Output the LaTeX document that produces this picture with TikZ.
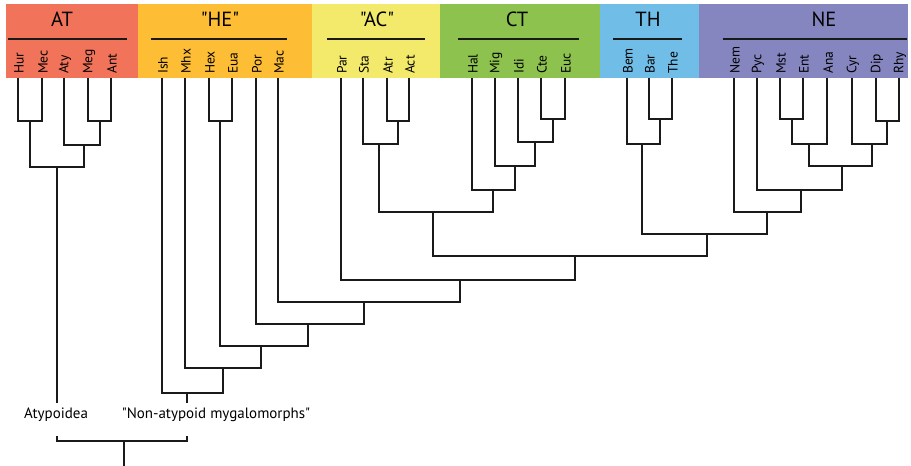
\documentclass[tikz,border=0pt]{standalone}
\usepackage{fontspec}
\setmainfont{PT Sans}[Ligatures=TeXOff]
\definecolor{cAT}{HTML}{F0735A}
\definecolor{cHE}{HTML}{FDBD35}
\definecolor{cAC}{HTML}{F3E96B}
\definecolor{cCT}{HTML}{8CC24D}
\definecolor{cTH}{HTML}{70BDE8}
\definecolor{cNE}{HTML}{8585C0}
\definecolor{ink}{HTML}{1A1A1A}
\begin{document}
\begin{tikzpicture}[x=1pt,y=-1pt,
  br/.style={line width=1.7pt, draw=ink, line join=miter},
  tline/.style={line width=1.4pt, draw=ink},
  ttl/.style={font=\fontsize{20.5}{24}\selectfont, inner sep=0pt, anchor=center},
  leaflab/.style={rotate=90, anchor=west, font=\fontsize{13.5}{16}\selectfont, inner sep=0pt},
  clade/.style={font=\fontsize{15}{18}\selectfont, inner sep=0pt}]
\useasboundingbox (0,0) rectangle (911,466);
\fill[white] (0,0) rectangle (911,466);
% colour bands
\fill[cAT] (6,4) rectangle (138,78);
\fill[cHE] (138,4) rectangle (312,78);
\fill[cAC] (312,4) rectangle (440,78);
\fill[cCT] (440,4) rectangle (600,78);
\fill[cTH] (600,4) rectangle (699,78);
\fill[cNE] (699,4) rectangle (908,78);
% group titles
\node[ttl] (tAT) at (62,19) {AT};
\node[ttl] (tHE) at (220,19) {"HE"};
\node[ttl] (tAC) at (377,19) {"AC"};
\node[ttl] (tCT) at (517,19) {CT};
\node[ttl] (tTH) at (648,19) {TH};
\node[ttl] (tNE) at (824,19) {NE};
\draw[tline] (8,39) -- (127,39);
\draw[tline] (151,39) -- (287,39);
\draw[tline] (327,39) -- (425,39);
\draw[tline] (458,39) -- (579,39);
\draw[tline] (613,39) -- (682,39);
\draw[tline] (723,39) -- (907,39);
% leaves
\foreach \n/\x in {Hur/18,Mec/42,Aty/64,Meg/88,Ant/111,
  Ish/162,Mhx/185,Hex/209,Eua/232,Por/256,Mac/278,
  Par/341,Sta/363,Atr/387,Act/409,
  Hal/472,Mig/495,Idi/518,Cte/541,Euc/565,
  Bem/627,Bar/649,The/672,
  Nem/734,Pyc/757,Mst/780,Ent/803,Ana/827,Cyr/852,Dip/876,Rhy/899}{
  \coordinate (\n) at (\x,78);
  \node[leaflab] (l\n) at (\x+1,74) {\n};
}
% internal nodes
\coordinate (a1) at (30,121);
\coordinate (a2) at (100,121);
\coordinate (a3) at (84,145);
\coordinate (a4) at (57,167);
\coordinate (h1) at (220,121);
\coordinate (c1) at (398,121);
\coordinate (c2) at (379,144);
\coordinate (t1) at (553,119);
\coordinate (t2) at (535,142);
\coordinate (t3) at (515,166);
\coordinate (t4) at (493,190);
\coordinate (ac) at (433,212);
\coordinate (th1) at (660,119);
\coordinate (th2) at (642,144);
\coordinate (n1) at (792,119);
\coordinate (n2) at (809,144);
\coordinate (n3) at (887,121);
\coordinate (n4) at (872,144);
\coordinate (n5) at (842,166);
\coordinate (n6) at (801,190);
\coordinate (n7) at (767,212);
\coordinate (tn) at (707,234);
\coordinate (x1) at (575,256);
\coordinate (x2) at (460,280);
\coordinate (x3) at (364,302);
\coordinate (x4) at (308,324);
\coordinate (x5) at (261,346);
\coordinate (x6) at (223,368);
\coordinate (x7) at (187,393);
% brackets
\draw[br] (Hur) |- (a1) -| (Mec);
\draw[br] (Meg) |- (a2) -| (Ant);
\draw[br] (Aty) |- (a3) -| (a2);
\draw[br] (a1) |- (a4) -| (a3);
\draw[br] (Hex) |- (h1) -| (Eua);
\draw[br] (Atr) |- (c1) -| (Act);
\draw[br] (Sta) |- (c2) -| (c1);
\draw[br] (Cte) |- (t1) -| (Euc);
\draw[br] (Idi) |- (t2) -| (t1);
\draw[br] (Mig) |- (t3) -| (t2);
\draw[br] (Hal) |- (t4) -| (t3);
\draw[br] (c2) |- (ac) -| (t4);
\draw[br] (Bar) |- (th1) -| (The);
\draw[br] (Bem) |- (th2) -| (th1);
\draw[br] (Mst) |- (n1) -| (Ent);
\draw[br] (n1) |- (n2) -| (Ana);
\draw[br] (Dip) |- (n3) -| (Rhy);
\draw[br] (Cyr) |- (n4) -| (n3);
\draw[br] (n2) |- (n5) -| (n4);
\draw[br] (Pyc) |- (n6) -| (n5);
\draw[br] (Nem) |- (n7) -| (n6);
\draw[br] (th2) |- (tn) -| (n7);
\draw[br] (ac) |- (x1) -| (tn);
\draw[br] (Par) |- (x2) -| (x1);
\draw[br] (Mac) |- (x3) -| (x2);
\draw[br] (Por) |- (x4) -| (x3);
\draw[br] (h1) |- (x5) -| (x4);
\draw[br] (Mhx) |- (x6) -| (x5);
\draw[br] (Ish) |- (x7) -| (x6);
% clade labels and root
\coordinate (atyT) at (57,403);
\coordinate (nonT) at (187,403);
\node[clade] (atyp) at (56,415) {Atypoidea};
\node[clade] (nonat) at (216,415) {"Non-atypoid mygalomorphs"};
\draw[br] (a4) -- (atyT);
\draw[br] (x7) -- (nonT);
\coordinate (atyB) at (57,436);
\coordinate (nonB) at (187,436);
\coordinate (root) at (124,441);
\coordinate (rootend) at (124,466);
\draw[br] (atyB) |- (root) -| (nonB);
\draw[br] (root) -- (rootend);
\end{tikzpicture}
\end{document}
